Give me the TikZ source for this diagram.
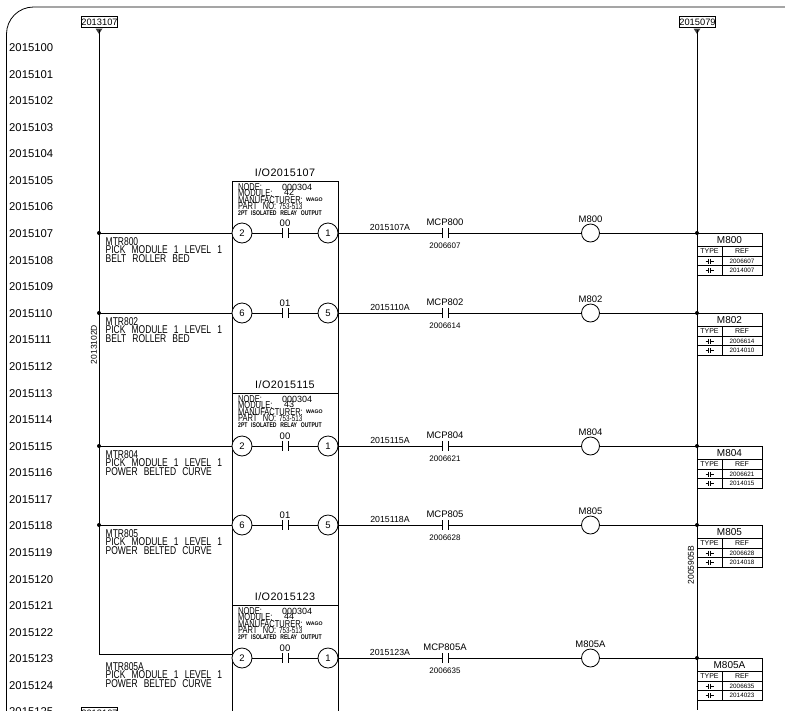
\documentclass[tikz,border=0pt]{standalone}
\usepackage{fontspec}
\setmainfont{Liberation Sans}
\newfontfamily\cadfont[FakeStretch=0.75,WordSpace=2.6]{Liberation Sans}
\newfontfamily\ioheadfont[LetterSpace=4]{Liberation Sans}
\tikzset{
  wire/.style={line width=0.9pt},
  rowlabel/.style={anchor=west,inner sep=0pt,font=\fontsize{11.3}{12}\selectfont},
  tagbox/.style={draw,line width=0.8pt,inner sep=0pt,minimum width=36pt,minimum height=10.5pt,font=\fontsize{9.3}{10}\selectfont},
  pin/.style={circle,draw,line width=0.8pt,fill=white,inner sep=0pt,minimum size=20pt,font=\fontsize{9.5}{10}\selectfont},
  coil/.style={circle,draw,line width=0.8pt,fill=white,inner sep=0pt,minimum size=18pt},
  txt/.style={inner sep=0pt,font=\fontsize{#1}{#1}\selectfont},
  cad/.style={anchor=west,inner sep=0pt,font=\cadfont\fontsize{#1}{#1}\selectfont},
  junction/.style={circle,fill=black,inner sep=0pt,minimum size=4pt}
}
\begin{document}
\begin{tikzpicture}[x=1pt,y=-1pt]
    \useasboundingbox (0,0) rectangle (785,710);
    % sheet border
    \draw[line width=0.8pt,rounded corners=27pt] (6.5,712) -- (6.5,7) -- (787,7);
    % rung numbers
    \foreach \i in {100,...,125}
    \node[rowlabel] (row\i) at (9,47.6+26.58*\i-2658) {2015\i};
    % rail tags
    \node[tagbox] (tagl) at (99.5,22) {2013107};
    \node[tagbox] (tagr) at (697.5,22) {2015079};
    \node[tagbox] (tagb) at (99.5,713) {2013107};
    \fill[black!75] (95.5,28.5) -- (102.5,28.5) -- (99,34) -- cycle;
    \fill[black!75] (693.5,28.5) -- (700.5,28.5) -- (697,34) -- cycle;
    \coordinate (lbustop) at (99,30);
    \coordinate (lbusend) at (99,654);
    \coordinate (modin) at (232,654);
    \coordinate (rbustop) at (697,30);
    \coordinate (rbusend) at (697,710);
    \draw[wire] (lbustop) -- (lbusend) -- (modin);
    \draw[wire] (rbustop) -- (rbusend);
    \node[txt=8.5,rotate=90] (lbuslabel) at (94,344.5) {2013102D};
    \node[txt=8.5,rotate=90] (rbuslabel) at (691,565) {2005905B};
    % I/O modules
    \draw[wire] (232,181) -- (232,712) (338,181) -- (338,712);
    \foreach \n/\y/\modnum/\ioname in {a/181/42/2015107, b/393/43/2015115, c/605/44/2015123}
    {
    \draw[wire] (232,\y) -- (338,\y);
    \node[inner sep=0pt,font=\ioheadfont\fontsize{10.8}{11}\selectfont] (head\n) at (285,\y-8) {I/O\ioname};
    \node[cad=10] (node\n) at (238,\y+6.5) {NODE:};
    \node[anchor=west,txt=9] (nodeval\n) at (282,\y+6) {000304};
    \node[cad=10] (mod\n) at (238,\y+12.5) {MODULE:};
    \node[anchor=west,txt=9] (modval\n) at (284,\y+11.5) {\modnum};
    \node[cad=10] (maker\n) at (238,\y+19) {MANUFACTURER:};
    \node[anchor=west,inner sep=0pt,font=\bfseries\fontsize{5.2}{6}\selectfont] (wago\n) at (306,\y+19) {WAGO};
    \node[cad=10] (part\n) at (238,\y+25.5) {PART NO:};
    \node[cad=8.4] (partval\n) at (279,\y+25.5) {753-513};
    \node[anchor=west,inner sep=0pt,font=\cadfont\bfseries\fontsize{6.8}{7}\selectfont] (desc\n) at (238,\y+32) {2PT ISOLATED RELAY OUTPUT};
    }
    % rungs
    \foreach \n/\y/\pl/\pr/\ch/\wname/\mcp/\cref/\coilname/\refb in {
      a/233/2/1/00/2015107A/MCP800/2006607/M800/2014007,
      b/313/6/5/01/2015110A/MCP802/2006614/M802/2014010,
      c/446/2/1/00/2015115A/MCP804/2006621/M804/2014015,
      d/525/6/5/01/2015118A/MCP805/2006628/M805/2014018,
      e/658/2/1/00/2015123A/MCP805A/2006635/M805A/2014023}
    {
    \node[pin] (pinl\n) at (242,\y) {\pl};
    \node[pin] (pinr\n) at (328,\y) {\pr};
    \coordinate (ka\n) at (282.5,\y);
    \coordinate (kb\n) at (288,\y);
    \draw[wire] (pinl\n) -- (ka\n) (kb\n) -- (pinr\n);
    \draw[wire] (282.5,\y-5) -- (282.5,\y+5) (288,\y-5) -- (288,\y+5);
    \node[txt=9.5] (chan\n) at (285,\y-10) {\ch};
    \coordinate (ma\n) at (442,\y);
    \coordinate (mb\n) at (448,\y);
    \node[coil] (coil\n) at (590.5,\y) {};
    \coordinate (rbus\n) at (697,\y);
    \draw[wire] (pinr\n) -- (ma\n) (mb\n) -- (coil\n) (coil\n) -- (rbus\n);
    \draw[wire] (442,\y-5) -- (442,\y+5) (448,\y-5) -- (448,\y+5);
    \node[junction] (rdot\n) at (rbus\n) {};
    \node[txt=8.8] (wnum\n) at (390,\y-6) {\wname};
    \node[txt=9.5] (mcplabel\n) at (445,\y-10.5) {\mcp};
    \node[txt=8] (cref\n) at (445,\y+13) {\cref};
    \node[txt=9.5] (coillabel\n) at (590.5,\y-13.5) {\coilname};
    % cross reference table
    \draw[shift={(697,\y)},line width=0.7pt] (0,0) rectangle (65,42)
      (0,13) -- (65,13) (0,23) -- (65,23) (0,32.5) -- (65,32.5) (25,13) -- (25,42);
    \node[txt=10] (tname\n) at (729.5,\y+6.8) {\coilname};
    \node[txt=7] (ttype\n) at (709.5,\y+18.3) {TYPE};
    \node[txt=7] (tref\n) at (742,\y+18.3) {REF};
    \node[txt=6.3] (trefa\n) at (742,\y+28) {\cref};
    \node[txt=6.3] (trefb\n) at (742,\y+37.5) {\refb};
    \foreach \ty in {28,37.5}
    \draw[shift={(709.5,\y+\ty)},line width=0.6pt] (-4,0) -- (-1.2,0) (1.2,0) -- (4,0) (-1.2,-2.5) -- (-1.2,2.5) (1.2,-2.5) -- (1.2,2.5);
    }
    % left bus branches and motor texts
    \foreach \n/\y/\motor/\load in {a/233/MTR800/BELT ROLLER BED, b/313/MTR802/BELT ROLLER BED, c/446/MTR804/POWER BELTED CURVE, d/525/MTR805/POWER BELTED CURVE, e/658/MTR805A/POWER BELTED CURVE}
    {
    \node[cad=11.3] (motor\n) at (105.5,\y+8.7) {\motor};
    \node[cad=11.3] (pick\n) at (105.5,\y+17) {PICK MODULE 1 LEVEL 1};
    \node[cad=11.3] (load\n) at (105.5,\y+25.5) {\load};
    }
    \foreach \n/\y in {a/233, b/313, c/446, d/525}
    {
    \coordinate (lbus\n) at (99,\y);
    \draw[wire] (lbus\n) -- (pinl\n);
    \node[junction] (ldot\n) at (lbus\n) {};
    }
\end{tikzpicture}
\end{document}
